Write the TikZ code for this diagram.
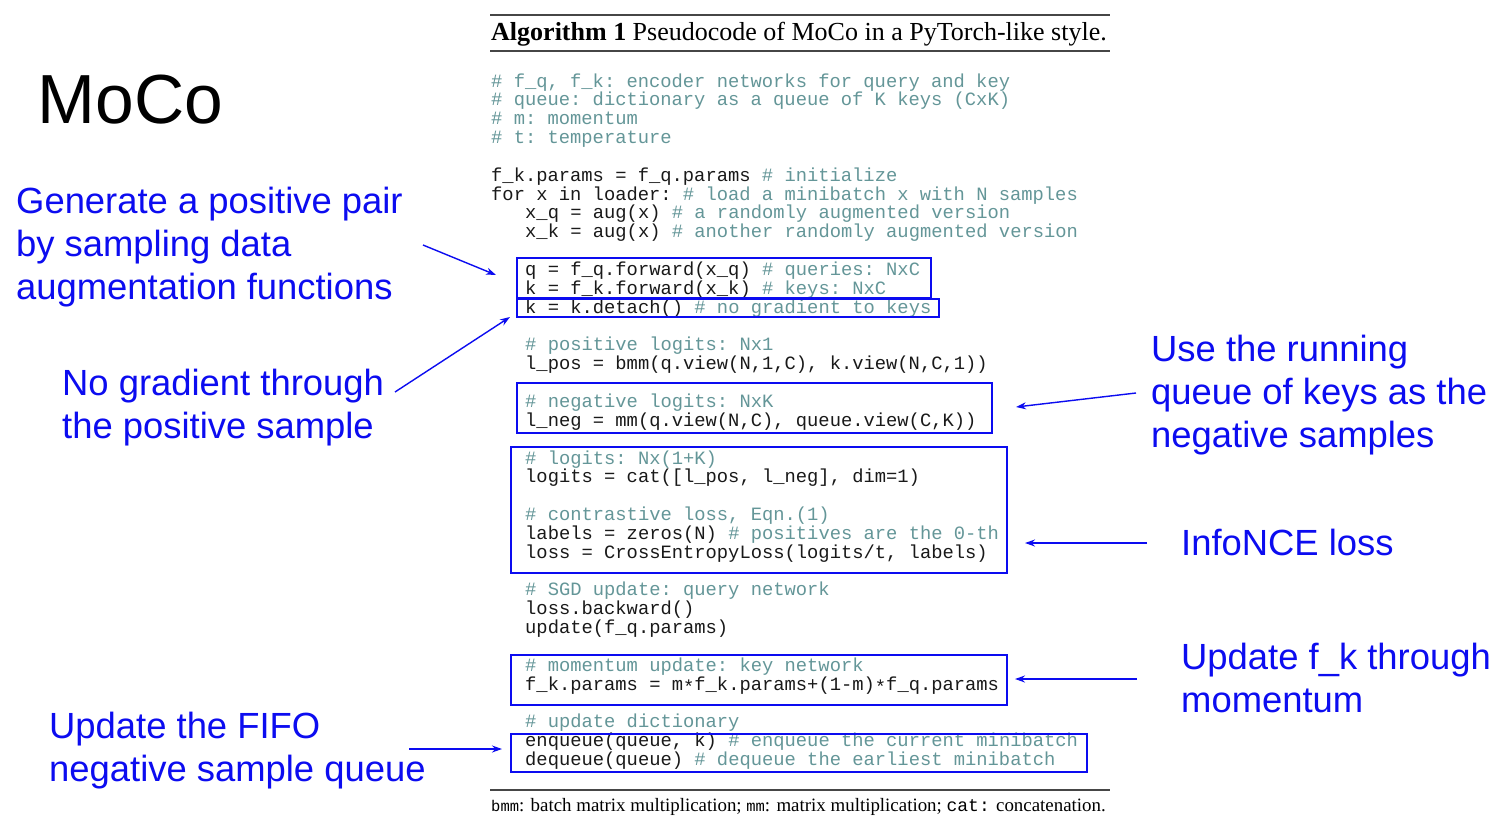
\documentclass[tikz,border=0pt]{standalone}
\usepackage{fontspec}
\setmainfont{Liberation Serif}
\newfontfamily\codefont{Liberation Mono}
\newfontfamily\annfont{Liberation Sans}
\usetikzlibrary{arrows.meta}
\definecolor{commentc}{RGB}{100,150,152}
\definecolor{codec}{RGB}{25,25,25}
\definecolor{annblue}{RGB}{12,12,240}
\definecolor{rulec}{RGB}{70,70,70}
\newcommand\cmt[1]{\textcolor{commentc}{#1}}
\newcommand\mstar{\raisebox{-0.35ex}{*}}
\begin{document}
\begin{tikzpicture}[x=1pt,y=-1pt,
  code/.style={anchor=base west, inner sep=0pt, font=\codefont\fontsize{18.8}{18.85}\selectfont\frenchspacing, text=codec},
  ann/.style={anchor=base west, inner sep=0pt, font=\annfont\fontsize{36.4}{43.5}\selectfont, text=annblue},
  hlbox/.style={draw=annblue, line width=1.6pt, inner sep=0pt, anchor=north west},
  conn/.style={draw=annblue, line width=1.4pt, -{Stealth[length=10pt,width=7pt]}},
  algrule/.style={draw=rulec}]
\fill[white] (0,0) rectangle (1512,830);
\useasboundingbox (0,0) rectangle (1512,830);

% title
\draw[algrule, line width=2.2pt] (490,15) -- (1110,15);
\node[anchor=base west, inner sep=0pt, font=\fontsize{26}{30}\selectfont] (title) at (491,40)
  {\textbf{Algorithm 1} Pseudocode of MoCo in a PyTorch-like style.};
\draw[algrule, line width=1.4pt] (490,51) -- (1110,51);

% code lines
\node[code] (c0) at (491,87) {\cmt{\# f\_q, f\_k: encoder networks for query and key}};
\node[code] (c1) at (491,105.85) {\cmt{\# queue: dictionary as a queue of K keys (CxK)}};
\node[code] (c2) at (491,124.7) {\cmt{\# m: momentum}};
\node[code] (c3) at (491,143.55) {\cmt{\# t: temperature}};
\node[code] (c5) at (491,181.25) {f\_k.params = f\_q.params \cmt{\# initialize}};
\node[code] (c6) at (491,200.1) {for x in loader: \cmt{\# load a minibatch x with N samples}};
\node[code] (c7) at (525,218.95) {x\_q = aug(x) \cmt{\# a randomly augmented version}};
\node[code] (c8) at (525,237.8) {x\_k = aug(x) \cmt{\# another randomly augmented version}};
\node[code] (c10) at (525,275.5) {q = f\_q.forward(x\_q) \cmt{\# queries: NxC}};
\node[code] (c11) at (525,294.35) {k = f\_k.forward(x\_k) \cmt{\# keys: NxC}};
\node[code] (c12) at (525,313.2) {k = k.detach() \cmt{\# no gradient to keys}};
\node[code] (c14) at (525,350.9) {\cmt{\# positive logits: Nx1}};
\node[code] (c15) at (525,369.75) {l\_pos = bmm(q.view(N,1,C), k.view(N,C,1))};
\node[code] (c17) at (525,407.45) {\cmt{\# negative logits: NxK}};
\node[code] (c18) at (525,426.3) {l\_neg = mm(q.view(N,C), queue.view(C,K))};
\node[code] (c20) at (525,464) {\cmt{\# logits: Nx(1+K)}};
\node[code] (c21) at (525,482.85) {logits = cat([l\_pos, l\_neg], dim=1)};
\node[code] (c23) at (525,520.55) {\cmt{\# contrastive loss, Eqn.(1)}};
\node[code] (c24) at (525,539.4) {labels = zeros(N) \cmt{\# positives are the 0-th}};
\node[code] (c25) at (525,558.25) {loss = CrossEntropyLoss(logits/t, labels)};
\node[code] (c27) at (525,595.95) {\cmt{\# SGD update: query network}};
\node[code] (c28) at (525,614.8) {loss.backward()};
\node[code] (c29) at (525,633.65) {update(f\_q.params)};
\node[code] (c31) at (525,671.35) {\cmt{\# momentum update: key network}};
\node[code] (c32) at (525,690.2) {f\_k.params = m\mstar f\_k.params+(1-m)\mstar f\_q.params};
\node[code] (c34) at (525,727.9) {\cmt{\# update dictionary}};
\node[code] (c35) at (525,746.75) {enqueue(queue, k) \cmt{\# enqueue the current minibatch}};
\node[code] (c36) at (525,765.6) {dequeue(queue) \cmt{\# dequeue the earliest minibatch}};

% bottom rule and footnote
\draw[algrule, line width=1.4pt] (490,790) -- (1110,790);
\node[anchor=base west, inner sep=0pt, font=\fontsize{18.9}{20}\selectfont] (foot) at (491,811)
  {{\codefont\fontsize{15.5}{15}\selectfont bmm}: batch matrix multiplication; {\codefont\fontsize{15.5}{15}\selectfont mm}: matrix multiplication; {\codefont\fontsize{18}{20}\selectfont cat:} concatenation.};

% highlight boxes
\node[hlbox, minimum width=414pt, minimum height=40pt] (b1) at (516,257) {};
\node[hlbox, minimum width=422pt, minimum height=18pt] (b2) at (516,298) {};
\node[hlbox, minimum width=475pt, minimum height=50pt] (b3) at (516,382) {};
\node[hlbox, minimum width=496pt, minimum height=126pt] (b4) at (510,446) {};
\node[hlbox, minimum width=496pt, minimum height=50pt] (b5) at (510,654) {};
\node[hlbox, minimum width=576pt, minimum height=38pt] (b6) at (510,733) {};

% title MoCo
\node[anchor=base west, inner sep=0pt, font=\annfont\fontsize{69.5}{70}\selectfont] (moco) at (37.5,123) {MoCo};

% annotations
\node[ann] (g1) at (16,213) {Generate a positive pair};
\node[ann] (g2) at (16,256) {by sampling data};
\node[ann] (g3) at (16,299) {augmentation functions};
\node[ann] (n1) at (62,395) {No gradient through};
\node[ann] (n2) at (62,438) {the positive sample};
\node[ann] (u1) at (1151,361) {Use the running};
\node[ann] (u2) at (1151,404) {queue of keys as the};
\node[ann] (u3) at (1151,447) {negative samples};
\node[ann] (i1) at (1181,555) {InfoNCE loss};
\node[ann] (m1) at (1181,669) {Update f\_k through};
\node[ann] (m2) at (1181,712) {momentum};
\node[ann] (f1) at (49,738) {Update the FIFO};
\node[ann] (f2) at (49,781) {negative sample queue};

% connector end points
\coordinate (a1s) at (423,245); \coordinate (a1e) at (496,275);
\coordinate (a2s) at (395,392); \coordinate (a2e) at (510,317);
\coordinate (a3s) at (1136,393); \coordinate (a3e) at (1016,407);
\coordinate (a4s) at (1147,543); \coordinate (a4e) at (1025,543);
\coordinate (a5s) at (1137,679); \coordinate (a5e) at (1015,679);
\coordinate (a6s) at (409,749); \coordinate (a6e) at (502,749);
\draw[conn] (a1s) -- (a1e);
\draw[conn] (a2s) -- (a2e);
\draw[conn] (a3s) -- (a3e);
\draw[conn] (a4s) -- (a4e);
\draw[conn] (a5s) -- (a5e);
\draw[conn] (a6s) -- (a6e);
\end{tikzpicture}
\end{document}
